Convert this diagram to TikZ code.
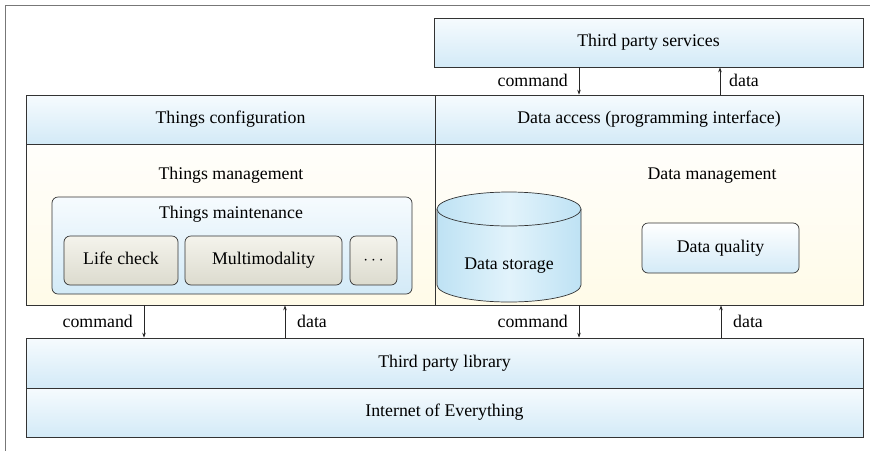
\documentclass[tikz,border=0pt]{standalone}
\usepackage{fontspec}
\setmainfont{Liberation Serif}
\usetikzlibrary{arrows.meta}
\definecolor{hblue}{HTML}{D3EAF7}
\definecolor{hbluetop}{HTML}{F6FBFE}
\definecolor{creamtop}{HTML}{FFFEFB}
\definecolor{creambot}{HTML}{FFFBE8}
\definecolor{graytop}{HTML}{F4F3EC}
\definecolor{graybot}{HTML}{DCDBCE}
\definecolor{cylblue}{HTML}{BEE2F4}
\definecolor{cylmid}{HTML}{E2F3FB}
\definecolor{framegray}{HTML}{777777}
\newcommand{\fs}{\rmfamily\fontsize{17.8}{21}\selectfont}
\begin{document}
\begin{tikzpicture}[x=1pt,y=-1pt,
  box/.style={draw=black!80, line width=0.7pt, inner sep=0pt, font=\fs, text height=12pt, text depth=4pt},
  bluebox/.style={box, top color=hbluetop, bottom color=hblue},
  creambox/.style={box, top color=creamtop, bottom color=creambot},
  graybox/.style={box, rounded corners=6pt, top color=graytop, bottom color=graybot},
  roundblue/.style={box, rounded corners=6pt, top color=hbluetop, bottom color=hblue},
  lbl/.style={font=\fs, inner sep=0pt, text height=12pt, text depth=4pt},
  flow/.style={draw=black!85, line width=0.6pt, -{Stealth[length=5pt,width=3.5pt]}}
]
\useasboundingbox (0,0) rectangle (870,451);
% frame
\draw[framegray, line width=0.8pt] (870,5) -- (5,5) -- (5,451);

% third party services
\node[bluebox, minimum width=429pt, minimum height=49pt] (tps) at (648.5,42.5) {Third party services};

% headers
\node[bluebox, minimum width=409pt, minimum height=49pt] (hdrL) at (230.5,119.5) {Things configuration};
\node[bluebox, minimum width=428pt, minimum height=49pt] (hdrR) at (649,119.5) {Data access (programming interface)};

% bodies
\node[creambox, minimum width=409pt, minimum height=161pt] (bodyL) at (230.5,224.5) {};
\node[creambox, minimum width=428pt, minimum height=161pt] (bodyR) at (649,224.5) {};

\node[lbl] (tmgmt) at (231,175) {Things management};
\node[lbl] (dmgmt) at (712,175) {Data management};

% things maintenance
\node[roundblue, minimum width=360pt, minimum height=97pt] (maint) at (232,245.5) {};
\node[lbl] (mtitle) at (231,214) {Things maintenance};
\node[graybox, minimum width=114pt, minimum height=49pt] (life) at (121,260.5) {Life check};
\node[graybox, minimum width=157pt, minimum height=49pt] (multi) at (263.5,260.5) {Multimodality};
\node[graybox, minimum width=47pt, minimum height=49pt] (dots) at (373.5,260.5) {$\cdots$};

% cylinder
\path[left color=cylblue, right color=cylblue, middle color=cylmid]
  (437,209) -- (437,285) arc[start angle=180, end angle=360, x radius=72pt, y radius=17pt]
  -- (581,209) arc[start angle=0, end angle=180, x radius=72pt, y radius=17pt] -- cycle;
\draw[black!80, line width=0.7pt]
  (437,209) -- (437,285) arc[start angle=180, end angle=360, x radius=72pt, y radius=17pt]
  -- (581,209);
\draw[black!80, line width=0.7pt, left color=cylblue, right color=cylblue, middle color=cylmid]
  (509,209) ellipse[x radius=72pt, y radius=17pt];
\node[lbl] (dstor) at (509,265) {Data storage};

% data quality
\node[roundblue, minimum width=157pt, minimum height=50pt, top color=white] (dq) at (720.5,248) {Data quality};

% bottom layers
\node[bluebox, minimum width=837pt, minimum height=50pt] (lib) at (444.5,363) {Third party library};
\node[bluebox, minimum width=837pt, minimum height=49pt] (ioe) at (444.5,412.5) {Internet of Everything};

% x positions
\coordinate (xc1) at (144,0);
\coordinate (xd1) at (285,0);
\coordinate (xc2) at (579,0);
\coordinate (xd2) at (721,0);
\coordinate (xc3) at (579,0);
\coordinate (xd3) at (720,0);

% arrows top
\draw[flow] (tps.south -| xc3) -- (hdrR.north -| xc3);
\draw[flow] (hdrR.north -| xd3) -- (tps.south -| xd3);
\node[lbl, anchor=east] (lc3) at (568,82) {command};
\node[lbl, anchor=west] (ld3) at (729,82) {data};

% arrows bottom left
\draw[flow] (bodyL.south -| xc1) -- (lib.north -| xc1);
\draw[flow] (lib.north -| xd1) -- (bodyL.south -| xd1);
\node[lbl, anchor=east] (lc1) at (133,323) {command};
\node[lbl, anchor=west] (ld1) at (297,323) {data};

% arrows bottom right
\draw[flow] (bodyR.south -| xc2) -- (lib.north -| xc2);
\draw[flow] (lib.north -| xd2) -- (bodyR.south -| xd2);
\node[lbl, anchor=east] (lc2) at (568,323) {command};
\node[lbl, anchor=west] (ld2) at (733,323) {data};
\end{tikzpicture}
\end{document}
